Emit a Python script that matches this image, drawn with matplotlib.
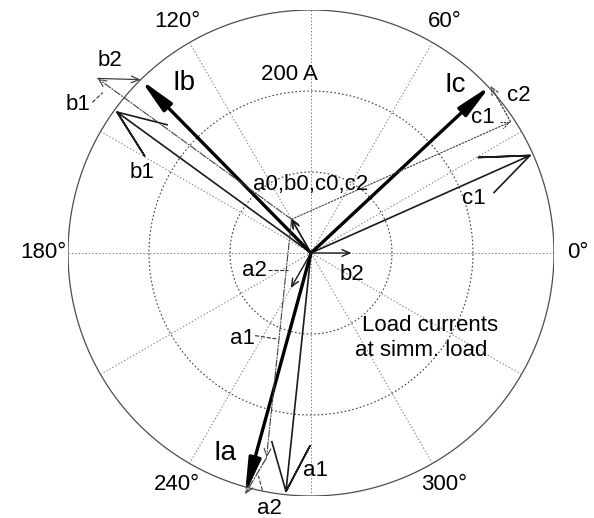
import numpy as np
import matplotlib.pyplot as plt

plt.rcParams['font.family'] = ['Liberation Sans', 'DejaVu Sans']

# polar grid (A, degrees)
rings = [100, 200, 300]
spokes = list(range(0, 360, 30))
angle_labels = [0, 60, 120, 180, 240, 300]
ring_label = '200 A'

# phasors: magnitude (A) and angle (deg) for phases a, b, c
I_mag = [309, 300, 303]
I_ang = [254.7, 134.5, 43.0]
pos_mag = [296, 296, 296]     # positive sequence a1, b1, c1
pos_ang = [264, 144, 24]
neg_mag = [50, 50, 50]        # negative sequence a2, b2, c2
neg_ang = [240, 0, 120]
zero_mag = [48, 48, 48]       # zero sequence a0, b0, c0
zero_ang = [120, 120, 120]


def vec(m, a):
    t = np.deg2rad(a)
    return np.array([m * np.cos(t), m * np.sin(t)])


def arrow(ax, p0, p1, style, lw, color, ls='-', ms=8):
    ax.annotate('', xy=p1, xytext=p0,
                arrowprops=dict(arrowstyle=style, lw=lw, color=color, ls=ls,
                                shrinkA=0, shrinkB=0, mutation_scale=ms))


fig = plt.figure(figsize=(5.94, 5.18), dpi=100)
ax = fig.add_axes([68 / 594, 22 / 518, 486 / 594, 486 / 518])
ax.set_xlim(-300, 300)
ax.set_ylim(-300, 300)
ax.set_aspect('equal')
ax.axis('off')

rmax = rings[-1]
th = np.linspace(0, 2 * np.pi, 400)
for r in rings[:-1]:
    ax.plot(r * np.cos(th), r * np.sin(th), color='0.25', lw=0.8, ls=(0, (1.5, 2)))
ax.plot(rmax * np.cos(th), rmax * np.sin(th), color='0.3', lw=0.9)
for s in spokes:
    p = vec(rmax, s)
    ax.plot([0, p[0]], [0, p[1]], color='0.5', lw=0.7, ls=(0, (1.5, 2)))
for s in angle_labels:
    p = vec(1.1 * rmax, s)
    ax.text(p[0], p[1], '%d°' % s, ha='center', va='center', fontsize=16)
ax.text(-27, 220, ring_label, ha='center', va='center', fontsize=16)

# load currents (thick)
for m, a in zip(I_mag, I_ang):
    arrow(ax, (0, 0), vec(m, a), '-|>,head_length=1.6,head_width=0.28', 2.4, 'k', ms=13)

# positive sequence from origin, compass-style arrowheads
for m, a in zip(pos_mag, pos_ang):
    xs = np.array([0, 1, .8, 1, .8]) * m
    ys = np.array([0, 0, .08, 0, -.08]) * m
    t = np.deg2rad(a)
    ax.plot(xs * np.cos(t) - ys * np.sin(t), xs * np.sin(t) + ys * np.cos(t),
            color='0.1', lw=1.2)

# negative and zero sequence from origin
for m, a in zip(neg_mag, neg_ang):
    arrow(ax, (0, 0), vec(m, a), '->,head_length=0.7,head_width=0.3', 1.0, '0.1')
arrow(ax, (0, 0), vec(zero_mag[0], zero_ang[0]), '->,head_length=0.7,head_width=0.3', 1.0, '0.1')

# chains: zero + positive + negative = load current
chain_ls = ['-.', '-.', (0, (1.5, 1.5))]
chain2_ls = ['-.', '-', (0, (1.5, 1.5))]
for i in range(3):
    p0 = vec(zero_mag[i], zero_ang[i])
    p1 = p0 + vec(pos_mag[i], pos_ang[i])
    p2 = vec(I_mag[i], I_ang[i])
    arrow(ax, p0, p1, '->,head_length=0.7,head_width=0.3', 0.8, '0.25', ls=chain_ls[i])
    arrow(ax, p1, p2, '->,head_length=0.7,head_width=0.3', 0.9, '0.25', ls=chain2_ls[i])

# labels
fs = 16
ax.text(-157, 210, 'Ib', fontsize=20, ha='center', va='center')
ax.text(178, 207, 'Ic', fontsize=20, ha='center', va='center')
ax.text(-106, -247, 'Ia', fontsize=20, ha='center', va='center')
ax.text(-248, 238, 'b2', fontsize=fs, ha='center', va='center')
ax.text(-288, 183, 'b1', fontsize=fs, ha='center', va='center')
ax.text(-209, 100, 'b1', fontsize=fs, ha='center', va='center')
ax.text(0, 84, 'a0,b0,c0,c2', fontsize=fs, ha='center', va='center')
ax.text(257, 195, 'c2', fontsize=fs, ha='center', va='center')
ax.text(212, 167, 'c1', fontsize=fs, ha='center', va='center')
ax.text(201, 67, 'c1', fontsize=fs, ha='center', va='center')
ax.text(51, -27, 'b2', fontsize=fs, ha='center', va='center')
ax.text(-70, -21, 'a2', fontsize=fs, ha='center', va='center')
ax.text(-84, -105, 'a1', fontsize=fs, ha='center', va='center')
ax.text(6, -268, 'a1', fontsize=fs, ha='center', va='center')
ax.text(-51, -315, 'a2', fontsize=fs, ha='center', va='center')
ax.text(63, -90, 'Load currents', fontsize=fs, ha='left', va='center')
ax.text(54, -120, 'at simm. load', fontsize=fs, ha='left', va='center')

# leader lines
ldr = dict(color='0.2', lw=0.8, ls='--')
ax.plot([-270, -257], [186, 198], **ldr)
ax.plot([-53, -28], [-21, -21], **ldr)
ax.plot([-69, -43], [-102, -106], **ldr)
ax.plot([-60, -65], [-293, -275], **ldr)

fig.savefig('out.png', dpi=100)
